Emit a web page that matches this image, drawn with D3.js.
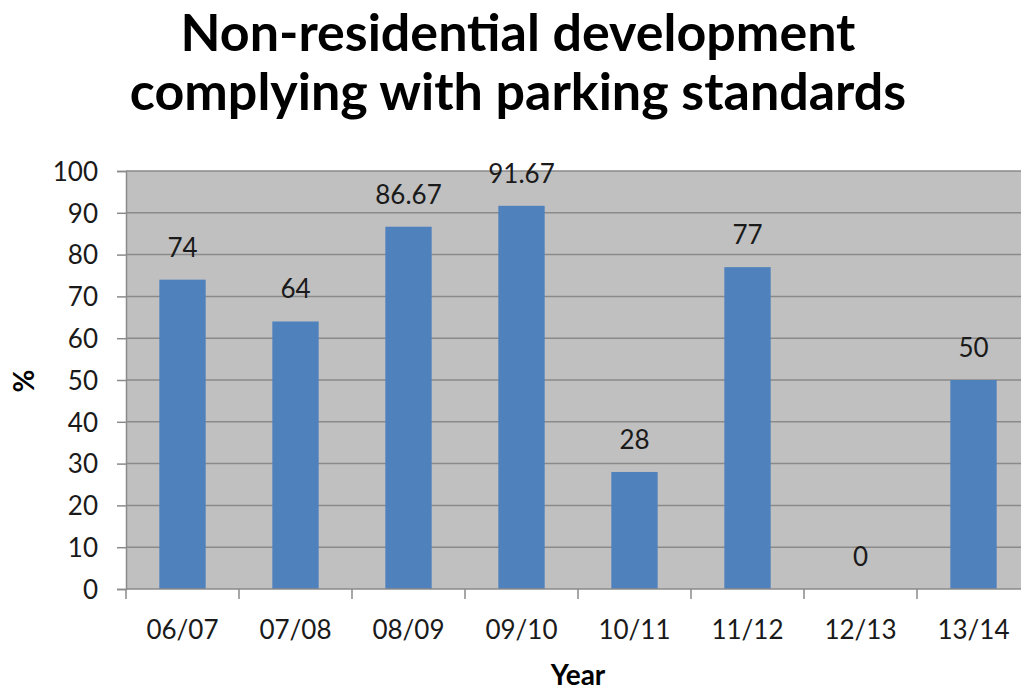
<!DOCTYPE html>
<html>
<head>
<meta charset="utf-8">
<script src="https://cdn.jsdelivr.net/npm/d3@7"></script>
<style>
  body { margin: 0; background: #fff; }
  svg { display: block; font-family: Lato, "Open Sans", sans-serif; }
</style>
</head>
<body>
<div id="chart"></div>
<script>
// chart data
const years = ["06/07", "07/08", "08/09", "09/10", "10/11", "11/12", "12/13", "13/14"];
const percents = [74, 64, 86.67, 91.67, 28, 77, 0, 50];
const yTicks = [0, 10, 20, 30, 40, 50, 60, 70, 80, 90, 100];
const titleLines = ["Non-residential development", "complying with parking standards"];

(function() {
  const width = 1021;
  const height = 691;
  const plot = { left: 126, right: 1030, top: 171, bottom: 589 };
  const labelSize = 26;

  var svg = d3.select("#chart")
    .append("svg")
    .attr("width", width)
    .attr("height", height)
    .attr("viewBox", "0 0 " + width + " " + height);

  var x = d3.scaleBand()
    .domain(years)
    .range([plot.left, plot.right])
    .paddingInner(0.59)
    .paddingOuter(0.295);

  var xTicks = d3.scaleBand().domain(years).range([plot.left, plot.right]);

  var y = d3.scaleLinear()
    .domain([0, 100])
    .range([plot.bottom, plot.top]);

  // plot background
  svg.append("rect")
    .attr("x", plot.left)
    .attr("y", plot.top)
    .attr("width", plot.right - plot.left)
    .attr("height", plot.bottom - plot.top)
    .attr("fill", "#c0c0c0");

  // gridlines
  svg.append("g")
    .selectAll("line")
    .data(yTicks.filter(d => d > 0))
    .join("line")
    .attr("x1", plot.left)
    .attr("x2", plot.right)
    .attr("y1", d => y(d))
    .attr("y2", d => y(d))
    .attr("stroke", "#8a8a8a")
    .attr("stroke-width", 1.5);

  // bars
  svg.append("g")
    .selectAll("rect")
    .data(years)
    .join("rect")
    .attr("x", d => x(d))
    .attr("width", x.bandwidth())
    .attr("y", (d, i) => y(percents[i]))
    .attr("height", (d, i) => y(0) - y(percents[i]))
    .attr("fill", "#4f81bd");

  // data labels
  svg.append("g")
    .selectAll("text")
    .data(years)
    .join("text")
    .attr("x", d => x(d) + x.bandwidth() / 2)
    .attr("y", (d, i) => y(percents[i]) - 23)
    .attr("text-anchor", "middle")
    .attr("font-size", labelSize)
    .attr("fill", "#1a1a1a")
    .text((d, i) => String(percents[i]));

  // y axis
  var yAxis = svg.append("g")
    .attr("transform", "translate(" + plot.left + ",0)")
    .call(d3.axisLeft(y).tickValues(yTicks).tickSize(9).tickPadding(19));
  yAxis.select(".domain").attr("stroke", "#8a8a8a").attr("stroke-width", 1.5);
  yAxis.selectAll(".tick line").attr("stroke", "#8a8a8a").attr("stroke-width", 1.5);
  yAxis.selectAll(".tick text")
    .attr("font-size", labelSize)
    .attr("font-family", "Lato, 'Open Sans', sans-serif")
    .attr("fill", "#1a1a1a")
    .attr("dy", "0.36em");

  // x axis: ticks sit between categories
  var xg = svg.append("g");
  xg.append("line")
    .attr("x1", plot.left)
    .attr("x2", plot.right)
    .attr("y1", plot.bottom)
    .attr("y2", plot.bottom)
    .attr("stroke", "#8a8a8a")
    .attr("stroke-width", 1.5);
  xg.selectAll(".xtick")
    .data(years)
    .join("line")
    .attr("class", "xtick")
    .attr("x1", d => xTicks(d))
    .attr("x2", d => xTicks(d))
    .attr("y1", plot.bottom)
    .attr("y2", plot.bottom + 10)
    .attr("stroke", "#8a8a8a")
    .attr("stroke-width", 1.5);
  xg.selectAll(".xlabel")
    .data(years)
    .join("text")
    .attr("class", "xlabel")
    .attr("x", d => x(d) + x.bandwidth() / 2)
    .attr("y", 639)
    .attr("text-anchor", "middle")
    .attr("font-size", labelSize)
    .attr("fill", "#1a1a1a")
    .text(d => d);

  // axis titles
  svg.append("text")
    .attr("x", 578)
    .attr("y", 685)
    .attr("text-anchor", "middle")
    .attr("font-size", 28)
    .attr("font-weight", "bold")
    .text("Year");

  svg.append("text")
    .attr("transform", "translate(34,381) rotate(-90)")
    .attr("text-anchor", "middle")
    .attr("font-size", 28)
    .attr("font-weight", "bold")
    .text("%");

  // title
  svg.append("g")
    .selectAll("text")
    .data(titleLines)
    .join("text")
    .attr("x", 518)
    .attr("y", (d, i) => 51 + i * 59)
    .attr("text-anchor", "middle")
    .attr("font-size", 52)
    .attr("font-weight", "bold")
    .attr("fill", "#000")
    .text(d => d);
}());
</script>
</body>
</html>
